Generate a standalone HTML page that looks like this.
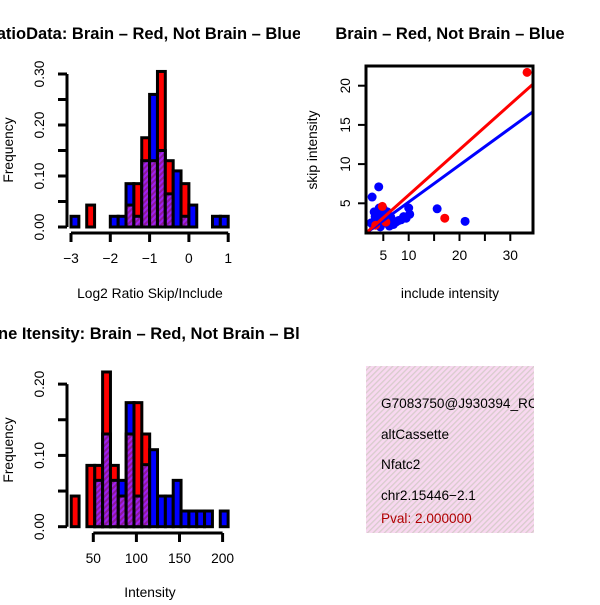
<!DOCTYPE html>
<html><head><meta charset="utf-8"><style>
body{margin:0;background:#fff}
svg text{font-family:"Liberation Sans",sans-serif}
</style></head><body>
<svg id="c" width="600" height="600" viewBox="0 0 600 600" xmlns="http://www.w3.org/2000/svg">
<defs>
<pattern id="pp" width="4" height="4" patternUnits="userSpaceOnUse" patternTransform="rotate(45)"><rect width="4" height="4" fill="#a020f0"/><rect width="2" height="4" fill="#8a1a9a"/></pattern>
<clipPath id="sc"><rect x="366" y="66" width="167" height="167"/></clipPath>
</defs>
</svg>
<script>
// Top-left histogram: log2 ratio, bins -3..1 step 0.2
const ratioBreakStart = -3, ratioBinWidth = 0.2;
const ratioBlue = [0.021,0,0,0,0,0.021,0.021,0.085,0.021,0.13,0.26,0.15,0.065,0.11,0.021,0.043,0,0,0.021,0.021];
const ratioRed  = [0,0,0.043,0,0,0,0,0.043,0.085,0.175,0.13,0.305,0.13,0,0.085,0,0,0,0,0];
const ratioXTicks = [-3,-2,-1,0,1];
const ratioYTicks = [0,0.05,0.10,0.15,0.20,0.25,0.30];
const ratioYLabels = ["0.00","","0.10","","0.20","","0.30"];
// Bottom-left histogram: intensity
const intBreakStart = 24.4, intBinWidth = 9.1;
const intBlue = [0,0,0,0.065,0.13,0.065,0.065,0.174,0.043,0.087,0.108,0.043,0.043,0.065,0.022,0.022,0.022,0.022,0,0.022];
const intRed  = [0.043,0,0.086,0.086,0.217,0.086,0.043,0.13,0.174,0.13,0,0,0,0,0,0,0,0,0,0];
const intXTicks = [50,100,150,200];
const intYTicks = [0,0.05,0.10,0.15,0.20];
const intYLabels = ["0.00","","0.10","","0.20"];
// Scatter
const blueX = [4.1,2.8,15.6,21.1,3,3.5,4,4.5,5,5.5,6,3.2,3.8,4.4,5.2,6.5,7,8,9,10,10.2,4.8,5.8,3.4,4.2,7.5,8.5,9.5,2.6,6.2];
const blueY = [7.1,5.8,4.3,2.7,2.2,2.8,3.4,4,4.3,3.6,3,3.9,2.4,2,2.5,3.2,2.3,2.8,3.3,4.4,3.6,3.2,3.9,3.3,4.4,2.6,2.9,3.1,2.5,2.1];
const redX = [33.3,17.1,4.8,3.5,5.5];
const redY = [21.7,3.1,4.6,2.2,2.6];
const redFit = [0.578,0.28], blueFit = [0.471,0.45];
const scXTicks=[5,10,15,20,25,30], scXLabels=["5","10","","20","","30"];
const scYTicks=[5,10,15,20];

const svg=document.getElementById('c');
const NS='http://www.w3.org/2000/svg';
const FS=13.8;
function mk(t,a,p){const e=document.createElementNS(NS,t);for(const k in a)e.setAttribute(k,a[k]);(p||svg).appendChild(e);return e;}
function txt(x,y,s,a){const e=mk('text',Object.assign({x:x,y:y,'font-size':FS,'text-anchor':'middle'},a||{}));e.textContent=s;return e;}

function hist(o){
  const g=mk('g',{});
  
  
  const X=v=>o.x0+(v-o.xv0)*o.xs, Y=v=>o.y0-v*o.ys;
  for(let i=0;i<o.blue.length;i++){
    const a=o.start+i*o.w, b=a+o.w, bl=o.blue[i], rd=o.red[i];
    const hi=Math.max(bl,rd), lo=Math.min(bl,rd);
    if(hi<=0)continue;
    const r=mk('rect',{x:X(a),y:Y(hi),width:X(b)-X(a),height:Y(0)-Y(hi),fill:bl>=rd?'#0000ff':'#ff0000',stroke:'#000','stroke-width':3},g);
    
    
    if(lo>0){const p=mk('rect',{x:X(a),y:Y(lo),width:X(b)-X(a),height:Y(0)-Y(lo),fill:'url(#pp)',stroke:'#000','stroke-width':3},g);
      
      }
  }
  const ya=mk('g',{});
  
  
  const yt=o.yt;
  mk('line',{x1:o.ax,x2:o.ax,y1:Y(yt[0]),y2:Y(yt[yt.length-1]),stroke:'#000','stroke-width':3},ya);
  yt.forEach((v,i)=>{mk('line',{x1:o.ax-9,x2:o.ax,y1:Y(v),y2:Y(v),stroke:'#000','stroke-width':3},ya);
    if(o.yl[i]){const t=txt(o.ax-23,Y(v),o.yl[i],{transform:`rotate(-90 ${o.ax-23} ${Y(v)})`});ya.appendChild(t);}});
  const xa=mk('g',{});
  
  
  const xt=o.xt;
  mk('line',{x1:X(xt[0]),x2:X(xt[xt.length-1]),y1:o.ay,y2:o.ay,stroke:'#000','stroke-width':3},xa);
  xt.forEach(v=>{mk('line',{x1:X(v),x2:X(v),y1:o.ay,y2:o.ay+9,stroke:'#000','stroke-width':3},xa);
    xa.appendChild(txt(X(v),o.ay+30,String(v).replace('-','\u2212')));});
}
hist({name:'ratio-histogram',start:ratioBreakStart,w:ratioBinWidth,blue:ratioBlue,red:ratioRed,x0:71,xv0:-3,xs:39.3,y0:227,ys:510,ax:67,ay:233,xt:ratioXTicks,yt:ratioYTicks,yl:ratioYLabels});
hist({name:'intensity-histogram',start:intBreakStart,w:intBinWidth,blue:intBlue,red:intRed,x0:93.3,xv0:50,xs:0.862,y0:526.7,ys:713,ax:67,ay:533,xt:intXTicks,yt:intYTicks,yl:intYLabels});

const SX=v=>383.3+(v-5)*5.08, SY=v=>203.3-(v-5)*7.84;
const sg=mk('g',{'clip-path':'url(#sc)'});


blueX.forEach((x,i)=>{const c=mk('circle',{cx:SX(x),cy:SY(blueY[i]),r:4.5,fill:'#0000ff'},sg);
  
  });
redX.forEach((x,i)=>{const c=mk('circle',{cx:SX(x),cy:SY(redY[i]),r:4.5,fill:'#ff0000'},sg);
  
  });
[[blueFit,'#0000ff','blue-fit-line'],[redFit,'#ff0000','red-fit-line']].forEach(([f,col,n])=>{
  const l=mk('line',{x1:SX(0),y1:SY(f[1]),x2:SX(40),y2:SY(f[0]*40+f[1]),stroke:col,'stroke-width':3},sg);
  
  });
const fr=mk('rect',{x:366,y:66,width:167,height:167,fill:'none',stroke:'#000','stroke-width':3});


scXTicks.forEach((v,i)=>{mk('line',{x1:SX(v),x2:SX(v),y1:233,y2:241,stroke:'#000','stroke-width':2});
  if(scXLabels[i])txt(SX(v),260,scXLabels[i]);});
scYTicks.forEach(v=>{mk('line',{x1:358,x2:366,y1:SY(v),y2:SY(v),stroke:'#000','stroke-width':2});
  txt(350,SY(v),String(v),{transform:`rotate(-90 350 ${SY(v)})`});});
</script>
<svg width="600" height="600" style="position:absolute;left:0;top:0" xmlns="http://www.w3.org/2000/svg">
<defs><clipPath id="lc"><rect x="0" y="0" width="300" height="600"/></clipPath>
<clipPath id="ic"><rect x="366" y="366" width="168" height="167"/></clipPath>
<pattern id="pk2" width="4" height="4" patternUnits="userSpaceOnUse" patternTransform="rotate(45)"><rect width="4" height="4" fill="#f8d8f0"/><rect width="1.3" height="4" fill="#d8cccc"/></pattern></defs>
<g clip-path="url(#lc)">
<text x="143" y="39" font-size="16.5" font-weight="bold" text-anchor="middle" font-family="Liberation Sans, sans-serif">RatioData: Brain – Red, Not Brain – Blue</text>
<text x="-24" y="339" font-size="16.5" font-weight="bold" text-anchor="start" font-family="Liberation Sans, sans-serif">Gene Itensity: Brain – Red, Not Brain – Blue</text>
</g>
<text x="450" y="39" font-size="16.5" font-weight="bold" text-anchor="middle" font-family="Liberation Sans, sans-serif">Brain – Red, Not Brain – Blue</text>
<text x="150" y="298" font-size="13.8" text-anchor="middle" font-family="Liberation Sans, sans-serif">Log2 Ratio Skip/Include</text>
<text x="150" y="597" font-size="13.8" text-anchor="middle" font-family="Liberation Sans, sans-serif">Intensity</text>
<text x="450" y="298" font-size="13.8" text-anchor="middle" font-family="Liberation Sans, sans-serif">include intensity</text>
<text x="13" y="150" font-size="13.8" text-anchor="middle" transform="rotate(-90 13 150)" font-family="Liberation Sans, sans-serif">Frequency</text>
<text x="13" y="450" font-size="13.8" text-anchor="middle" transform="rotate(-90 13 450)" font-family="Liberation Sans, sans-serif">Frequency</text>
<text x="317" y="150" font-size="13.8" text-anchor="middle" transform="rotate(-90 317 150)" font-family="Liberation Sans, sans-serif">skip intensity</text>
<g clip-path="url(#ic)" font-family="Liberation Sans, sans-serif" font-size="13.6">
<rect x="366" y="366" width="168" height="167" fill="url(#pk2)"/>
<text x="381" y="408">G7083750@J930394_RC</text>
<text x="381" y="439">altCassette</text>
<text x="381" y="469">Nfatc2</text>
<text x="381" y="500">chr2.15446−2.1</text>
<text x="381" y="523" fill="#b00000">Pval: 2.000000</text>
</g>
</svg>
</body></html>
